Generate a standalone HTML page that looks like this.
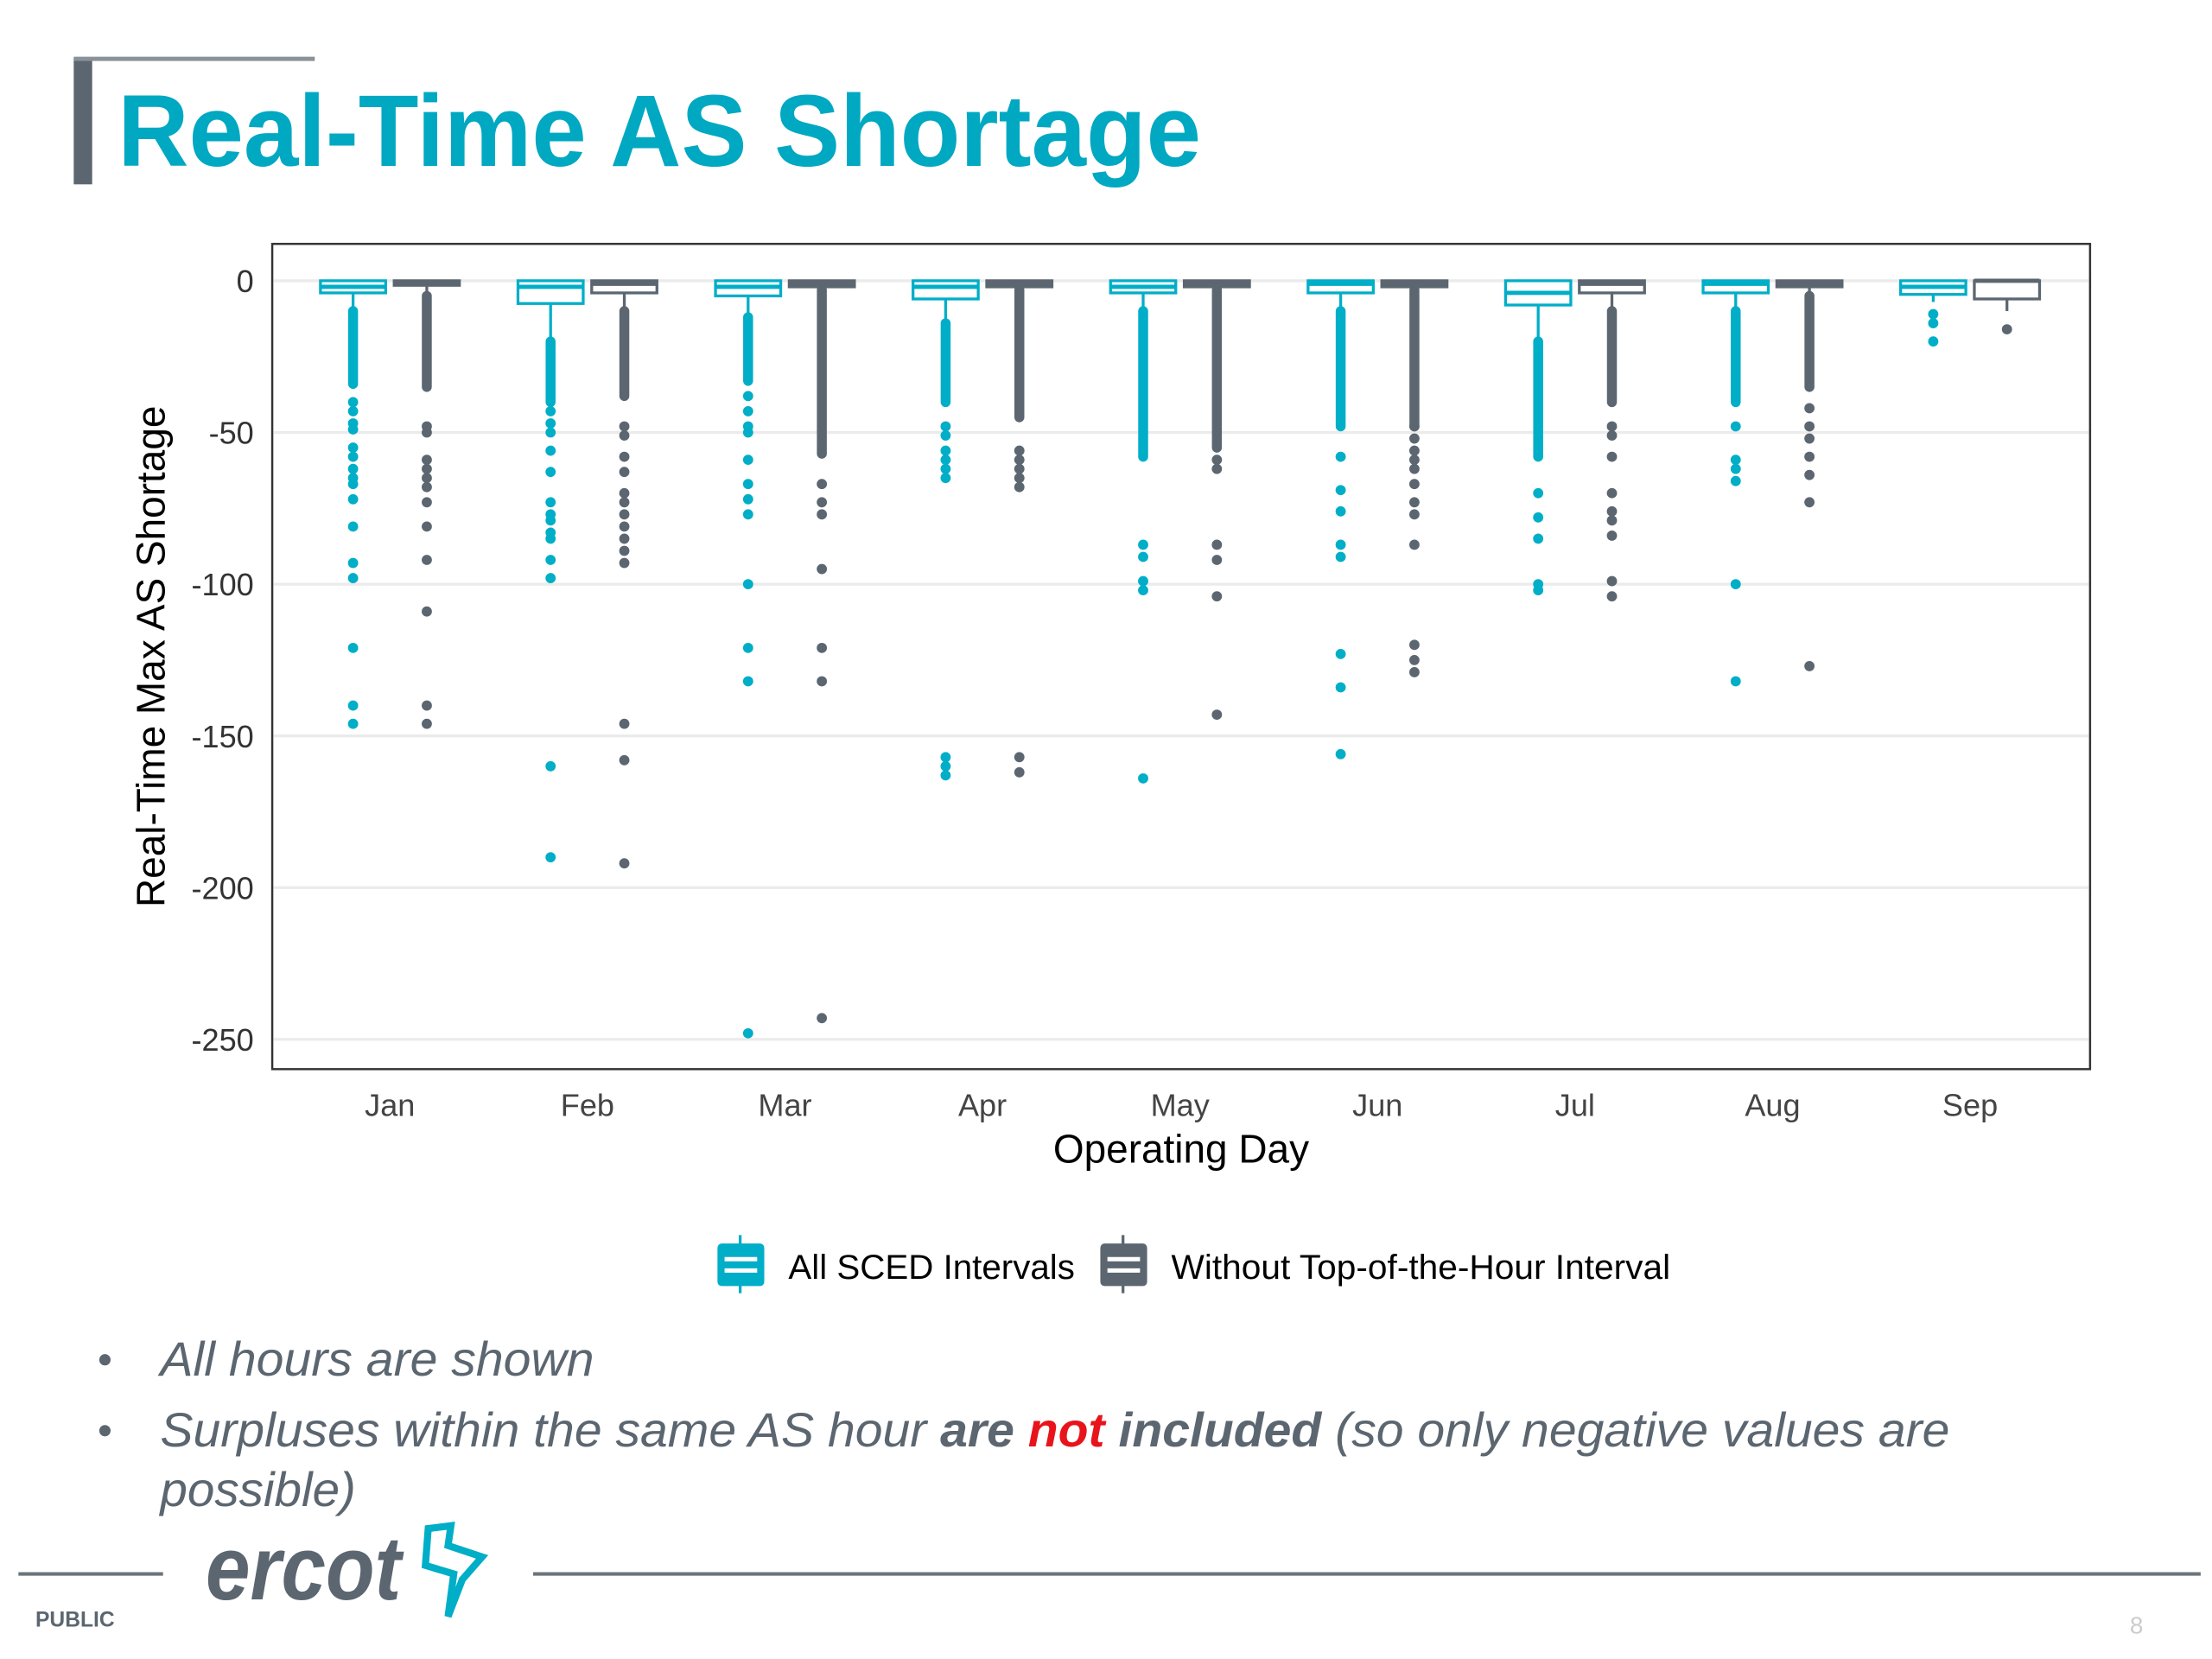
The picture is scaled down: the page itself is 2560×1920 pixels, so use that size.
<!DOCTYPE html>
<html><head><meta charset="utf-8"><style>
html,body{margin:0;padding:0;background:#fff;}
svg{display:block;font-family:"Liberation Sans",sans-serif;}
</style></head><body>
<svg id="chart" width="2560" height="1920" viewBox="0 0 1560 1170" xmlns="http://www.w3.org/2000/svg">
<rect x="52" y="41" width="13" height="89" fill="#5b6670"/>
<rect x="52" y="40" width="170" height="3" fill="#8a9298"/>
<text x="83" y="117" font-size="72" font-weight="bold" fill="#00a8c2" textLength="764" lengthAdjust="spacingAndGlyphs">Real-Time AS Shortage</text>
<g id="grid"></g>
<rect x="192" y="172" width="1282" height="582" fill="none" stroke="#333" stroke-width="1.5"/>
<g id="marks"></g>
<g id="ticks"></g>
<text x="833" y="820" font-size="28" text-anchor="middle" fill="#000">Operating Day</text>
<text transform="translate(116,463) rotate(-90)" font-size="28" text-anchor="middle" fill="#000">Real-Time Max AS Shortage</text>
<g>
<g>
<line x1="522" y1="871" x2="522" y2="912" stroke="#00aec7" stroke-width="2"/>
<rect x="506" y="877" width="33" height="30" rx="3" fill="#00aec7"/>
<line x1="511" y1="888" x2="534" y2="888" stroke="#fff" stroke-width="3"/>
<line x1="511" y1="896" x2="534" y2="896" stroke="#fff" stroke-width="3"/>
<text x="556" y="902" font-size="24" fill="#000" textLength="202" lengthAdjust="spacingAndGlyphs">All SCED Intervals</text>
</g>
<g>
<line x1="792" y1="871" x2="792" y2="912" stroke="#5b6670" stroke-width="2"/>
<rect x="776" y="877" width="33" height="30" rx="3" fill="#5b6670"/>
<line x1="781" y1="888" x2="804" y2="888" stroke="#fff" stroke-width="3"/>
<line x1="781" y1="896" x2="804" y2="896" stroke="#fff" stroke-width="3"/>
<text x="826" y="902" font-size="24" fill="#000" textLength="352" lengthAdjust="spacingAndGlyphs">Without Top-of-the-Hour Interval</text>
</g>
</g>
<g font-size="34" font-style="italic" fill="#5b6670">
<circle cx="74" cy="959" r="4" fill="#5b6670"/>
<text x="113" y="970" textLength="306" lengthAdjust="spacingAndGlyphs">All hours are shown</text>
<circle cx="74" cy="1009" r="4" fill="#5b6670"/>
<text x="113" y="1020" textLength="1262" lengthAdjust="spacingAndGlyphs">Surpluses within the same AS hour <tspan font-weight="bold">are </tspan><tspan font-weight="bold" fill="#e8141b">not</tspan><tspan font-weight="bold"> included</tspan> (so only negative values are</text>
<text x="113" y="1062" textLength="138" lengthAdjust="spacingAndGlyphs">possible)</text>
</g>
<line x1="13" y1="1110" x2="115" y2="1110" stroke="#6b747a" stroke-width="2.5"/>
<line x1="376" y1="1110" x2="1552" y2="1110" stroke="#6b747a" stroke-width="2.5"/>
<text x="145" y="1128" font-size="64" font-style="italic" font-weight="bold" fill="#5b6670" textLength="138" lengthAdjust="spacingAndGlyphs">ercot</text>
<path d="M302 1078 L318 1076 L316 1090 L340 1098 L326 1114 L316 1140 L320 1110 L300 1104 Z" fill="none" stroke="#00aec7" stroke-width="5"/>
<text x="25" y="1147" font-size="15" font-weight="bold" fill="#5b6670">PUBLIC</text>
<text x="1502" y="1152" font-size="17" fill="#ccc">8</text>
</svg>
<script>
const months = ["Jan","Feb","Mar","Apr","May","Jun","Jul","Aug","Sep"];
const yTicks = [0,-50,-100,-150,-200,-250];
// [q1(upper), median, q3(lower), whisker end]
const boxAll = [[0,-2,-4,-10],[0,-2,-7.5,-20],[0,-2,-5,-12],[0,-2,-6,-14],[0,-2,-4,-10],[0,-1,-4,-10],[0,-4,-8,-20],[0,-1,-4,-10],[0,-2,-4.5,-7]];
const boxNoTop = [[0,-1,-1.5,-5],[0,-1,-4,-10],[0,-1,-2,-3],[0,-1,-2,-3],[0,-1,-2,-3],[0,-1,-2,-3],[0,-1,-4,-10],[0,-1,-2,-5],[0,0,-6,-10]];
// dense outlier runs [from,to]
const runAll = [[-10,-34],[-20,-40],[-12,-33],[-14,-40],[-10,-58],[-10,-48],[-20,-58],[-10,-40],null];
const runNoTop = [[-5,-35],[-10,-38],[-3,-57],[-3,-45],[-3,-55],[-3,-48],[-10,-40],[-5,-35],null];
const outAll = [
 [-40,-43,-47,-49,-55,-58,-62,-65,-67,-72,-81,-93,-98,-121,-140,-146],
 [-43,-47,-50,-56,-63,-73,-77,-79,-83,-85,-92,-98,-160,-190],
 [-38,-43,-48,-50,-59,-67,-72,-77,-100,-121,-132,-248],
 [-48,-51,-56,-59,-62,-65,-157,-160,-163],
 [-87,-91,-99,-102,-164],
 [-58,-69,-76,-87,-91,-123,-134,-156],
 [-70,-78,-85,-100,-102],
 [-48,-59,-62,-66,-100,-132],
 [-11,-14,-20]
];
const outNoTop = [
 [-48,-50,-59,-62,-65,-68,-73,-81,-92,-109,-140,-146],
 [-48,-51,-58,-63,-70,-73,-77,-81,-85,-89,-93,-146,-158,-192],
 [-67,-73,-77,-95,-121,-132,-243],
 [-56,-59,-62,-65,-68,-157,-162],
 [-59,-62,-87,-92,-104,-143],
 [-48,-52,-56,-59,-62,-67,-73,-77,-87,-120,-125,-129],
 [-48,-51,-58,-70,-76,-79,-84,-99,-104],
 [-42,-48,-52,-58,-64,-73,-127],
 [-16]
];
const NS="http://www.w3.org/2000/svg";
const y = v => 198 + (-v)*2.14;
const x = i => 275 + i*139.3;
function mk(tag, attrs, parent){const e=document.createElementNS(NS,tag);for(const k in attrs)e.setAttribute(k,attrs[k]);parent.appendChild(e);return e;}
const grid=document.getElementById('grid'), ticks=document.getElementById('ticks'), marks=document.getElementById('marks');
yTicks.forEach(t=>{
  const l=mk('line',{x1:193,x2:1473,y1:y(t),y2:y(t),stroke:'#ebebeb','stroke-width':2},grid);
  
  
  const tx=mk('text',{x:179,y:y(t)+8,'font-size':22,'text-anchor':'end',fill:'#333'},ticks);
  tx.textContent=String(t);
  
  
});
months.forEach((m,i)=>{
  const tx=mk('text',{x:x(i),y:787,'font-size':22,'text-anchor':'middle',fill:'#444'},ticks);
  tx.textContent=m;
  
  
});
function drawSeries(box, runs, outs, off, col, name){
  months.forEach((m,i)=>{
    const cx=x(i)+off;
    const g=mk('g',{},marks);
    
    
    const b=box[i];
    mk('line',{x1:cx,x2:cx,y1:y(b[2]),y2:y(b[3]),stroke:col,'stroke-width':2},g);
    const r=mk('rect',{x:cx-23,y:y(b[0]),width:46,height:Math.max(y(b[2])-y(b[0]),3),fill:'#fff',stroke:col,'stroke-width':2},g);
    
    
    mk('line',{x1:cx-23,x2:cx+23,y1:y(b[1]),y2:y(b[1]),stroke:col,'stroke-width':3},g);
    if(runs[i]){
      const rl=mk('line',{x1:cx,x2:cx,y1:y(runs[i][0]),y2:y(runs[i][1]),stroke:col,'stroke-width':7,'stroke-linecap':'round'},g);
      
      
    }
    outs[i].forEach(v=>{
      const c=mk('circle',{cx:cx,cy:y(v),r:3.6,fill:col},g);
      
      
    });
  });
}
drawSeries(boxAll, runAll, outAll, -26, '#00aec7', 'box-all-sced');
drawSeries(boxNoTop, runNoTop, outNoTop, 26, '#5b6670', 'box-without-top-of-hour');
</script>
</body></html>
